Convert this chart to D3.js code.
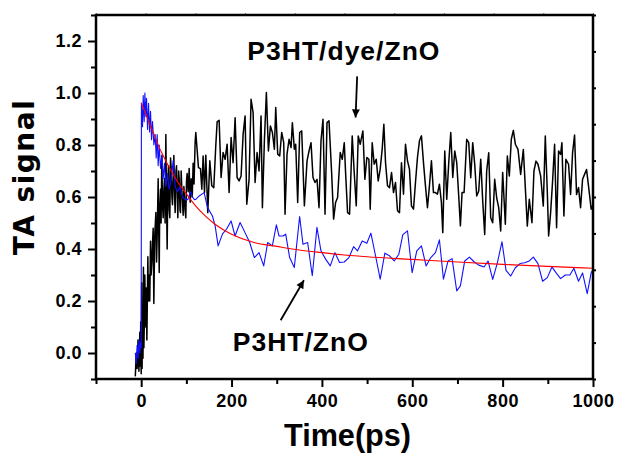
<!DOCTYPE html>
<html><head><meta charset="utf-8">
<script src="https://cdn.jsdelivr.net/npm/d3@7"></script>
<style>body{margin:0;background:#fff}</style>
</head><body>
<svg id="c" width="618" height="457"></svg>
<script>
// P3HT/dye/ZnO (black)
const dyeData = [[-13,-0.09],[-11,0.0],[-9,-0.06],[-7,0.05],[-5,-0.07],[-3,0.08],[-2,-0.05],[-1,0.12],[0,-0.08],[1,0.27],[2,-0.06],[3,0.16],[4,-0.02],[5,0.33],[6,0.02],[7,0.12],[8,0.30],[10,0.10],[11,0.25],[12.6,0.05],[14.8,0.37],[16,0.20],[17.8,0.30],[19,0.20],[20.7,0.43],[22,0.30],[23.7,0.35],[25,0.42],[26.6,0.48],[28,0.19],[30,0.45],[32.5,0.54],[34,0.35],[35.4,0.45],[37.6,0.67],[39.9,0.31],[41,0.55],[42.8,0.63],[44,0.50],[45.8,0.76],[47,0.58],[48.7,0.52],[50,0.62],[51.6,0.67],[53,0.50],[54.6,0.84],[56,0.60],[57.5,0.40],[59,0.66],[60.5,0.72],[62,0.55],[63.4,0.52],[65,0.75],[66.4,0.71],[68,0.60],[69.3,0.57],[71,0.68],[72.3,0.76],[74,0.60],[75.2,0.54],[77,0.70],[78.2,0.72],[80,0.60],[81.1,0.52],[83,0.70],[84.1,0.67],[86,0.55],[87,0.54],[88.5,0.70],[90,0.63],[91.5,0.58],[92.9,0.53],[94.5,0.64],[95.8,0.60],[97,0.55],[98.8,0.52],[100.3,0.66],[101.7,0.69],[104,0.62],[106.2,0.71],[108.5,0.58],[110.6,0.67],[113,0.60],[115,0.73],[117,0.65],[119.4,0.81],
[120.9,0.848],[126.8,0.713],[131.2,0.709],[134.2,0.630],[137.1,0.758],[140.1,0.617],[143,0.761],[147.4,0.540],[151.9,0.739],[156.3,0.643],[160.7,0.636],[165.1,0.797],[168.1,0.889],[172.5,0.895],[176.9,0.675],[181.3,0.771],[185.7,0.745],[190.2,0.803],[194.6,0.617],[199,0.829],[203.4,0.732],[207.9,0.905],[212.3,0.675],[216.7,0.662],[221.1,0.681],[225.6,0.841],[230,0.912],[233.7,0.572],[238.8,0.668],[243.2,0.976],[247.7,0.925],[252.1,0.656],[256.5,0.771],[260.9,0.700],[265.3,0.912],[268.3,0.559],[272.7,0.816],[277.1,1.002],[281.6,0.777],[286,0.873],[290.4,0.848],[294.8,0.784],[297.8,0.944],[302.2,0.765],[306.6,0.758],[311,0.848],[315.5,0.809],[318.4,0.534],[322.8,0.765],[327.3,0.822],[331.7,0.790],[334.6,0.886],[339,0.784],[342,0.803],[346.4,0.579],[350.8,0.848],[355.3,0.854],[361.2,0.566],[367.1,0.739],[371.5,0.777],[375.9,0.809],[380.3,0.675],[384.7,0.656],[389.2,0.668],[393.6,0.559],[398,0.816],[402.4,0.899],[406.9,0.534],[411.3,0.886],[415.7,0.893],
[421.5,0.694],[425.9,0.515],[430.3,0.579],[434.7,0.598],[440.6,0.771],[445,0.745],[449.5,0.809],[452.4,0.694],[456.8,0.540],[461.2,0.534],[467.1,0.835],[471.5,0.694],[476,0.566],[480.4,0.835],[484.8,0.803],[490.7,0.854],[495.1,0.668],[499.5,0.752],[504,0.745],[506.9,0.553],[511.3,0.809],[515.7,0.726],[520.2,0.745],[524.6,0.662],[529,0.707],[533.4,0.784],[537.1,0.880],[540.8,0.732],[545.2,0.643],[549.6,0.636],[554.1,0.694],[558.5,0.617],[562.9,0.656],[567.3,0.547],[571.7,0.540],[576.1,0.732],[580.6,0.611],[585,0.803],[589.4,0.739],[593.8,0.707],[598.2,0.566],[602.7,0.553],[607.1,0.656],[611.5,0.752],[615.9,0.816],[620.3,0.835],[624.8,0.732],[629.2,0.643],[633.6,0.559],[638,0.643],[642.4,0.739],[646.9,0.617],[651.3,0.617],[655.7,0.611],[660.1,0.649],[664.5,0.579],[667.5,0.463],[671.9,0.777],[676.3,0.591],[680.7,0.732],[685.2,0.848],[689.6,0.675],[694,0.777],[698.4,0.732],[702.8,0.604],[706.5,0.489],
[710.2,0.617],[714.7,0.617],[720.5,0.822],[725,0.809],[729.4,0.674],[733.8,0.809],[738.2,0.726],[742.6,0.604],[747.1,0.623],[751.5,0.745],[755.9,0.585],[760.3,0.456],[764.7,0.700],[769.2,0.770],[773.6,0.520],[778,0.501],[782.4,0.668],[786.8,0.597],[791.3,0.559],[795.7,0.469],[800.1,0.694],[806,0.495],[810.4,0.758],[814.8,0.681],[819.2,0.822],[823.7,0.856],[828.1,0.803],[834,0.783],[839.9,0.687],[845.8,0.783],[850.2,0.636],[854.6,0.488],[859,0.591],[864.9,0.501],[869.3,0.700],[873.8,0.738],[878.2,0.726],[884.1,0.681],[890,0.565],[894.4,0.835],[898.8,0.623],[901.8,0.450],[906.2,0.540],[910.6,0.662],[915,0.803],[919.4,0.482],[923.8,0.777],[928.3,0.764],[931.2,0.809],[935.6,0.527],[940,0.745],[945.9,0.726],[950.4,0.610],[954.8,0.770],[959.2,0.838],[963.6,0.610],[968,0.636],[972.5,0.559],[976.9,0.668],[981.3,0.687],[985.7,0.706],[990.1,0.642],[996,0.553],[1000,0.57]];

// P3HT/ZnO (blue)
const znoData = [[-13,0.0],[-11,-0.04],[-9,0.03],[-7,-0.02],[-5,0.05],[-3,0.0],[-1.5,0.04],[0,0.02],[0.5,0.96],[3,0.87],[4.5,0.99],[6.7,0.89],[8.2,1.0],[10.4,0.91],[11.9,0.98],[14.1,0.86],[16.3,0.96],[18.5,0.85],[20.7,0.93],[22.9,0.82],[25.1,0.89],[28.1,0.80],[31,0.84],[33.2,0.75],[35.4,0.84],[37.6,0.72],[39.9,0.80],[42.8,0.71],[45.8,0.76],[48.7,0.67],[51.6,0.73],[54.6,0.64],[58.3,0.69],[62,0.63],[66.4,0.67],[70.8,0.74],[75.2,0.64],[80.4,0.62],[85.5,0.64],[91.4,0.60],[97.3,0.59],[103.2,0.59],[109.1,0.62],[113.5,0.60],[118,0.59],[121,0.591],[128.3,0.604],[139.3,0.617],[146.7,0.56],[157.7,0.527],[163.6,0.49],[170.3,0.412],[179.8,0.457],[188.7,0.476],[199,0.508],[207.8,0.450],[218.9,0.502],[229.9,0.463],[240.2,0.425],[250.5,0.367],[260.9,0.386],[271.2,0.335],[280,0.425],[290.3,0.412],[299.2,0.493],[305.1,0.450],[313.9,0.45],[319.8,0.457],[328.6,0.367],[338.9,0.329],[350.7,0.525],[358.1,0.418],[368.4,0.425],[378.7,0.297],[389,0.483],[397.9,0.393],[408.2,0.361],[418.5,0.335],[428.8,0.386],[439.1,0.348],[449.4,0.350],[459.8,0.367],[470.1,0.409],[478.9,0.393],[489.2,0.431],[499.5,0.422],[508.4,0.461],[518.7,0.374],[529,0.284],[539.3,0.384],[549.6,0.374],[560,0.354],[570.3,0.380],[579.1,0.455],[589.4,0.470],[599.7,0.309],[610,0.393],[620.3,0.412],[630.6,0.335],[641,0.367],[651.3,0.386],[660.1,0.435],[669,0.284],[679.3,0.354],[688.1,0.363],[698.4,0.239],[706.5,0.258],[716.1,0.354],[726.4,0.369],[736.7,0.351],[747,0.338],[758.8,0.331],[767.7,0.354],[778,0.283],[788.3,0.347],[798.6,0.428],[807.5,0.318],[817.8,0.296],[828.1,0.328],[838.4,0.344],[848.7,0.347],[859,0.354],[867.9,0.369],[878.2,0.344],[888.5,0.276],[898.8,0.290],[909.1,0.331],[918,0.309],[928.3,0.286],[938.6,0.300],[948.9,0.300],[957.7,0.326],[968,0.276],[976.9,0.308],[987.2,0.228],[996,0.309],[1000,0.32]];

// fit curve (red)
const fitData = [[0,0.963],[10,0.92],[20,0.875],[30,0.835],[40,0.79],[50,0.755],[60,0.72],[70,0.69],[80,0.66],[90,0.635],[100,0.612],[120,0.567],[140,0.53],[160,0.50],[180,0.476],[200,0.457],[250,0.425],[300,0.41],[350,0.396],[400,0.386],[450,0.377],[500,0.370],[600,0.360],[700,0.350],[800,0.341],[900,0.333],[1000,0.326]];

const xTicks = [0, 200, 400, 600, 800, 1000];
const xMinor = [-100, 100, 300, 500, 700, 900];
const yTicks = [0.0, 0.2, 0.4, 0.6, 0.8, 1.0, 1.2];
const yMinor = [-0.1, 0.1, 0.3, 0.5, 0.7, 0.9, 1.1, 1.3];
const auxTicks = [0,0.1,0.2,0.3,0.4,0.5,0.6,0.7,0.8,0.9,1.0];

const labels = [
  {text: "P3HT/dye/ZnO", t: 235, v: 1.127, from: [478, 1.064], to: [474.5, 0.906]},
  {text: "P3HT/ZnO", t: 202.7, v: 0.008, from: [308.7, 0.126], to: [360.2, 0.280]}
];

const svg = d3.select("#c");
const L = 96, R = 593, T = 15, B = 379;
const x = d3.scaleLinear([-100, 1000], [L, R]);
const y = d3.scaleLinear([-0.1, 1.3], [B, T]);
const xAux = d3.scaleLinear([0, 1], [L, R]);
const yAux = d3.scaleLinear([0, 1], [B, T]);

const defs = svg.append("defs");
defs.append("clipPath").attr("id", "clip")
  .append("rect").attr("x", L).attr("y", T).attr("width", R - L).attr("height", B - T);
const mk = defs.append("marker").attr("id", "ah")
  .attr("viewBox", "0 0 10 10").attr("refX", 10).attr("refY", 5)
  .attr("markerUnits", "userSpaceOnUse").attr("markerWidth", 11).attr("markerHeight", 8)
  .attr("orient", "auto");
mk.append("path").attr("d", "M0,0 L10,5 L0,10 Z").attr("fill", "#000");

const line = d3.line().x(d => x(d[0])).y(d => y(d[1]));
const gData = svg.append("g").attr("clip-path", "url(#clip)");
gData.append("path").datum(dyeData).attr("d", line).attr("fill", "none").attr("stroke", "#000").attr("stroke-width", 1.5).attr("stroke-linejoin", "round");
gData.append("path").datum(znoData).attr("d", line).attr("fill", "none").attr("stroke", "#1010ff").attr("stroke-width", 1.1).attr("stroke-linejoin", "round");
gData.append("path").datum(fitData).attr("d", d3.line().x(d => x(d[0])).y(d => y(d[1])).curve(d3.curveMonotoneX)).attr("fill", "none").attr("stroke", "#ff0000").attr("stroke-width", 1.1);

function styleAxis(sel) {
  sel.select(".domain").remove();
  sel.selectAll("line").attr("stroke", "#000").attr("stroke-width", 2);
  sel.selectAll("text").attr("font-family", "'Liberation Sans', Arial, sans-serif")
    .attr("font-weight", "bold").attr("font-size", 18).attr("fill", "#000").style("letter-spacing", "0.5px");
}
svg.append("g").attr("transform", `translate(0,${B})`)
  .call(d3.axisBottom(x).tickValues(xTicks).tickSize(8).tickPadding(7).tickFormat(d3.format("d"))).call(styleAxis);
svg.append("g").attr("transform", `translate(0,${B})`)
  .call(d3.axisBottom(x).tickValues(xMinor).tickSize(5).tickFormat("")).call(styleAxis);
svg.append("g").attr("transform", `translate(${L},0)`)
  .call(d3.axisLeft(y).tickValues(yTicks).tickSize(8).tickPadding(6).tickFormat(d3.format(".1f"))).call(styleAxis);
svg.append("g").attr("transform", `translate(${L},0)`)
  .call(d3.axisLeft(y).tickValues(yMinor).tickSize(5).tickFormat("")).call(styleAxis);
svg.append("g").attr("transform", `translate(${R},0)`)
  .call(d3.axisRight(yAux).tickValues(auxTicks).tickSize(3).tickFormat("")).call(styleAxis);
const topAxis = svg.append("g").attr("transform", `translate(0,${T})`)
  .call(d3.axisTop(xAux).tickValues(auxTicks).tickSize(2).tickFormat("")).call(styleAxis);
topAxis.selectAll("line").attr("stroke", "#777").attr("stroke-width", 1);

svg.append("rect").attr("x", L).attr("y", T).attr("width", R - L).attr("height", B - T)
  .attr("fill", "none").attr("stroke", "#000").attr("stroke-width", 2.5);

svg.append("text").attr("transform", `translate(34,177) rotate(-90)`)
  .attr("text-anchor", "middle").attr("font-family", "'DejaVu Sans', sans-serif")
  .attr("font-weight", "bold").attr("font-size", 28).style("letter-spacing", "1.5px").text("TA signal");
svg.append("text").attr("x", 284).attr("y", 446)
  .attr("font-family", "'Liberation Sans', Arial, sans-serif").attr("font-weight", "bold")
  .attr("font-size", 32).attr("textLength", 127).attr("lengthAdjust", "spacingAndGlyphs").text("Time(ps)");

labels.forEach(a => {
  svg.append("text").attr("x", x(a.t)).attr("y", y(a.v))
    .attr("font-family", "'Liberation Sans', Arial, sans-serif").attr("font-weight", "bold")
    .attr("font-size", 26.5).style("letter-spacing", "1px").text(a.text);
  svg.append("line").attr("x1", x(a.from[0])).attr("y1", y(a.from[1]))
    .attr("x2", x(a.to[0])).attr("y2", y(a.to[1]))
    .attr("stroke", "#000").attr("stroke-width", 1.8).attr("marker-end", "url(#ah)");
});
</script>
</body></html>
